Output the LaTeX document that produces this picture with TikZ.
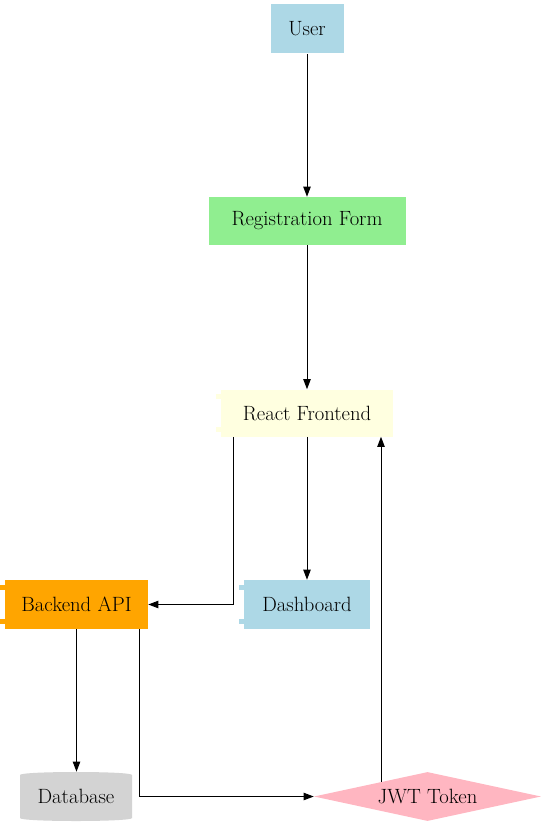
\documentclass[tikz,border=0pt]{standalone}
\usetikzlibrary{shapes.geometric,arrows.meta}
\definecolor{lblue}{HTML}{ADD8E6}
\definecolor{lgreen}{HTML}{90EE90}
\definecolor{lyellow}{HTML}{FFFFE0}
\definecolor{orng}{HTML}{FFA500}
\definecolor{lgray}{HTML}{D3D3D3}
\definecolor{lpink}{HTML}{FFB6C1}
\newcommand{\comptabs}[2]{%
  \fill[#2] ([xshift=-3.75pt,yshift=-3.75pt]#1.north west) rectangle ([xshift=0.5pt,yshift=-7.5pt]#1.north west);
  \fill[#2] ([xshift=-3.75pt,yshift=3.75pt]#1.south west) rectangle ([xshift=0.5pt,yshift=7.5pt]#1.south west);
}
\begin{document}
\begin{tikzpicture}[x=0.75pt,y=-0.75pt,
  box/.style={draw=none, fill=#1, rectangle, inner sep=0pt, font=\fontsize{15.5}{18}\selectfont},
  lbl/.style={draw=none, inner sep=0pt, font=\fontsize{15.5}{18}\selectfont},
  edge/.style={-{Triangle[length=7.5pt,width=5.5pt]}, line width=0.75pt, draw=black}
]
\useasboundingbox (0,0) rectangle (545,827);
% nodes
\node[box=lblue, minimum width=54.75pt, minimum height=36.75pt] (user) at (307,29) {User};
\node[box=lgreen, minimum width=147.75pt, minimum height=36pt] (reg) at (307,221) {Registration Form};
\node[box=lyellow, minimum width=129pt, minimum height=35.25pt] (react) at (307,413) {React Frontend};
\comptabs{react}{lyellow}
\node[box=orng, minimum width=107.25pt, minimum height=36.75pt] (backend) at (76.5,604.5) {Backend API};
\comptabs{backend}{orng}
\node[box=lblue, minimum width=94.5pt, minimum height=36.75pt] (dash) at (307,604.5) {Dashboard};
\comptabs{dash}{lblue}
% database cylinder
\fill[lgray] (20,775) .. controls (20,771) and (132,771) .. (132,775) -- (132,818) .. controls (132,822) and (20,822) .. (20,818) -- cycle;
\node[lbl, minimum width=84pt, minimum height=36.75pt] (db) at (76,796.5) {Database};
\node[diamond, aspect=4.6, fill=lpink, draw=none, inner sep=0pt, minimum width=170.25pt, minimum height=36.75pt, font=\fontsize{15.5}{18}\selectfont] (jwt) at (427.5,796.5) {JWT Token};
% edges
\coordinate (jin) at ([xshift=55.5pt]react.south);
\coordinate (jtop) at ([yshift=11.25pt]jwt.center);
\coordinate (rout) at ([xshift=-55.5pt]react.south);
\coordinate (bout) at ([xshift=47.6pt]backend.south);
\draw[edge] (user.south) -- (reg.north);
\draw[edge] (reg.south) -- (react.north);
\draw[edge] (react.south) -- (dash.north);
\draw[edge] (rout) |- (backend.east);
\draw[edge] (backend.south) -- (backend.south |- db.north);
\draw[edge] (bout) |- (jwt.west);
\draw[edge] (jin |- jtop) -- (jin);
\end{tikzpicture}
\end{document}
